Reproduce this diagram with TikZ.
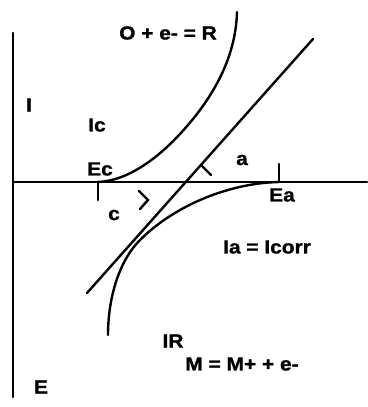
\documentclass[tikz,border=0pt]{standalone}
\usepackage{fontspec}
\setmainfont{Liberation Sans}
\newfontfamily\lblfont{Liberation Sans}[FakeStretch=1.1,FakeBold=1.2]
\begin{document}
\begin{tikzpicture}[x=1pt,y=-1pt,
  ln/.style={line width=2.4pt,line cap=round},
  lbl/.style={font=\lblfont\bfseries\fontsize{19}{22}\selectfont,inner sep=0pt}]
\useasboundingbox (0,0) rectangle (367,407);
% axes
\coordinate (vtop) at (13,33);
\coordinate (vbot) at (13,397);
\coordinate (hl) at (13,182);
\coordinate (hr) at (367,182);
\draw[ln] (vtop) -- (vbot);
\draw[ln] (hl) -- (hr);
% ticks
\coordinate (ec) at (98,182);
\coordinate (ecb) at (98,200);
\coordinate (ea) at (279,182);
\coordinate (eat) at (279,164);
\draw[ln] (ec) -- (ecb);
\draw[ln] (ea) -- (eat);
% cathodic curve
\coordinate (k1) at (200,110);
\coordinate (ktop) at (237,12);
\draw[ln] (97,182) .. controls (137,181) and (176,142) .. (k1)
  .. controls (220,83) and (236,50) .. (ktop);
% anodic curve
\coordinate (m1) at (140,240);
\coordinate (mbot) at (108,335);
\draw[ln] (ea) .. controls (230,183) and (175,205) .. (m1)
  .. controls (118,262) and (108,300) .. (mbot);
% straight line
\coordinate (lt) at (313,39);
\coordinate (lb) at (87,293);
\draw[ln] (lt) -- (lb);
% barb on line
\coordinate (bp) at (201,165);
\coordinate (be) at (211,175);
\draw[ln] (bp) -- (be);
% chevron
\coordinate (c1) at (139,191);
\coordinate (c2) at (148,200);
\coordinate (c3) at (140,209);
\draw[ln] (c1) -- (c2) -- (c3);
% labels
\node[lbl] (t1) at (168,33) {O + e- = R};
\node[lbl] (tI) at (29,105) {I};
\node[lbl] (tIc) at (97,125) {Ic};
\node[lbl] (tEc) at (100,169) {Ec};
\node[lbl] (ta) at (242,160) {a};
\node[lbl] (tEa) at (282,195) {Ea};
\node[lbl] (tc) at (114,215) {c};
\node[lbl] (tIa) at (267,247) {Ia = Icorr};
\node[lbl] (tIR) at (173,341) {IR};
\node[lbl] (tM) at (242,364) {M = M+ + e-};
\node[lbl] (tE) at (41,387) {E};
\end{tikzpicture}
\end{document}
